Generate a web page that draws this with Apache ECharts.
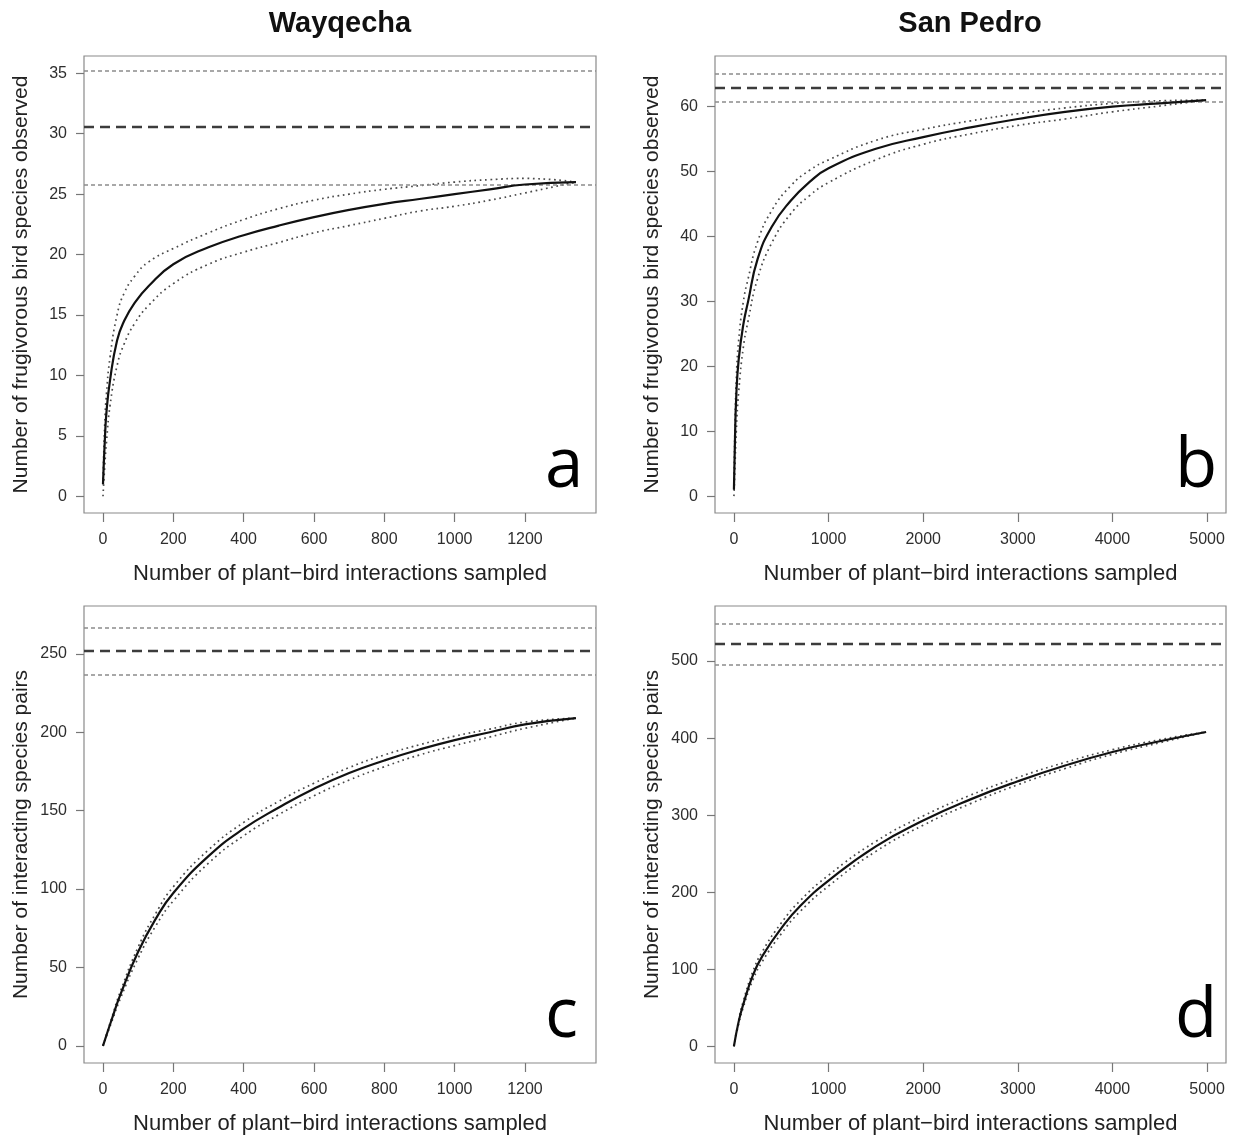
<!DOCTYPE html>
<html>
<head>
<meta charset="utf-8">
<script src="https://cdn.jsdelivr.net/npm/echarts@6/dist/echarts.min.js"></script>
<style>
html,body{margin:0;padding:0;background:#fff;}
#chart{width:1235px;height:1138px;}
</style>
</head>
<body>
<div id="chart"></div>
<script>
// ---------- DATA ----------
const panelTitles = ['Wayqecha', 'San Pedro'];
const panelLetters = ['a', 'b', 'c', 'd'];
const xTitle = 'Number of plant\u2212bird interactions sampled';
const yTitleTop = 'Number of frugivorous bird species observed';
const yTitleBottom = 'Number of interacting species pairs';

const xTicksWay = [0, 200, 400, 600, 800, 1000, 1200];
const xTicksSP = [0, 1000, 2000, 3000, 4000, 5000];
const yTicksA = [0, 5, 10, 15, 20, 25, 30, 35];
const yTicksB = [0, 10, 20, 30, 40, 50, 60];
const yTicksC = [0, 50, 100, 150, 200, 250];
const yTicksD = [0, 100, 200, 300, 400, 500];

// Panel a (Wayqecha, bird species)
const xA = [0, 5, 10, 20, 40, 60, 90, 130, 200, 300, 400, 500, 600, 700, 800, 900, 1000, 1100, 1200, 1345];
const aObs = [1, 4.5, 7, 9.6, 12.9, 14.5, 16.0, 17.4, 19.2, 20.6, 21.6, 22.4, 23.1, 23.7, 24.2, 24.6, 25.0, 25.4, 25.8, 26.0];
const aUpper = [1, 6, 8.5, 11.5, 15.0, 16.8, 18.2, 19.4, 20.5, 21.8, 22.9, 23.8, 24.5, 25.0, 25.4, 25.7, 26.0, 26.2, 26.3, 26.0];
const aLower = [0, 2.5, 4.5, 7.5, 10.8, 12.6, 14.3, 15.8, 17.6, 19.2, 20.2, 21.0, 21.8, 22.4, 23.0, 23.6, 24.0, 24.5, 25.1, 26.0];
const aRef = [35.2, 30.55, 25.75]; // upper CI, estimate, lower CI

// Panel b (San Pedro, bird species)
const xB = [0, 10, 25, 50, 100, 150, 250, 400, 600, 800, 1000, 1500, 2000, 2500, 3000, 3500, 4000, 4500, 4990];
const bObs = [1, 8, 15.5, 21, 26.5, 30, 36.5, 41.5, 45.5, 48.4, 50.5, 53.5, 55.3, 56.8, 58.1, 59.2, 60.0, 60.5, 61];
const bUpper = [1, 10, 18, 24, 30, 33.5, 39.2, 44, 47.8, 50.2, 51.8, 54.8, 56.5, 57.8, 58.9, 59.8, 60.5, 60.9, 61];
const bLower = [0, 4, 10, 16, 23, 27, 33.5, 39, 43.5, 46.3, 48.3, 51.8, 54.2, 55.8, 57.1, 58.1, 59.2, 60.1, 61];
const bRef = [65.0, 62.9, 60.8];

// Panel c (Wayqecha, interaction pairs)
const xC = [0, 25, 50, 100, 150, 200, 300, 400, 500, 600, 700, 800, 900, 1000, 1100, 1200, 1345];
const cObs = [0, 17, 33, 60, 81, 97.5, 121, 138.5, 152, 164, 174, 182, 189, 195, 200, 205, 209];
const cUpper = [0, 18, 35, 63, 84.5, 101.5, 125, 142.5, 156, 167.5, 177.5, 185.5, 192, 197.5, 202, 206.5, 209];
const cLower = [0, 15.5, 30.5, 56, 76.5, 92.5, 116.5, 134, 147.5, 159.5, 169.5, 178, 185.5, 191.5, 197, 202.5, 209];
const cRef = [266.5, 252, 236.5];

// Panel d (San Pedro, interaction pairs)
const xD = [0, 50, 100, 200, 300, 500, 700, 1000, 1500, 2000, 2500, 3000, 3500, 4000, 4500, 4990];
const dObs = [0, 32, 55, 92, 117, 153, 182, 215, 259.5, 293, 320.5, 344, 364.5, 382, 396, 408];
const dUpper = [0, 34, 59, 97, 123, 160, 189, 222, 266, 299, 326, 349, 368.5, 385, 398, 408];
const dLower = [0, 29, 51, 86, 110, 146, 175, 208, 253, 287, 315, 339.5, 360.5, 379, 394, 408];
const dRef = [549, 522, 495];

// ---------- LAYOUT / STYLE ----------
const FONT = '"Liberation Sans", Arial, Helvetica, sans-serif';
const grids = [
  {left: 84, top: 56, width: 512, height: 457},
  {left: 715, top: 56, width: 511, height: 457},
  {left: 84, top: 606, width: 512, height: 457},
  {left: 715, top: 606, width: 511, height: 457}
];
const ranges = [
  {x: [-54, 1402], y: [-1.38, 36.43]},
  {x: [-200, 5200], y: [-2.6, 67.8]},
  {x: [-54, 1402], y: [-10.9, 280.5]},
  {x: [-200, 5200], y: [-21.7, 571.5]}
];
const panels = [
  {x: xA, obs: aObs, up: aUpper, lo: aLower, ref: aRef, xt: xTicksWay, yt: yTicksA, yname: yTitleTop},
  {x: xB, obs: bObs, up: bUpper, lo: bLower, ref: bRef, xt: xTicksSP, yt: yTicksB, yname: yTitleTop},
  {x: xC, obs: cObs, up: cUpper, lo: cLower, ref: cRef, xt: xTicksWay, yt: yTicksC, yname: yTitleBottom},
  {x: xD, obs: dObs, up: dUpper, lo: dLower, ref: dRef, xt: xTicksSP, yt: yTicksD, yname: yTitleBottom}
];

const zip = (xs, ys) => xs.map((x, i) => [x, ys[i]]);
const plain = v => String(v);

const option = {
  backgroundColor: '#fff',
  animation: false,
  title: [
    {text: panelTitles[0], left: 340, top: 9, textAlign: 'center', padding: 0,
     textStyle: {fontFamily: FONT, fontSize: 29, fontWeight: 'bold', color: '#111'}},
    {text: panelTitles[1], left: 970, top: 9, textAlign: 'center', padding: 0,
     textStyle: {fontFamily: FONT, fontSize: 29, fontWeight: 'bold', color: '#111'}}
  ],
  grid: grids.map(g => Object.assign({show: true, borderColor: '#8a8a8a', borderWidth: 1.2, backgroundColor: 'transparent'}, g)),
  xAxis: panels.map((p, i) => ({
    type: 'value', gridIndex: i, min: ranges[i].x[0], max: ranges[i].x[1],
    splitLine: {show: false},
    axisLine: {show: false, onZero: false},
    axisTick: {show: true, inside: false, length: 9, customValues: p.xt, lineStyle: {color: '#777', width: 1.2}},
    axisLabel: {show: true, customValues: p.xt, formatter: plain, margin: 19, fontFamily: FONT, fontSize: 16, color: '#2e2e2e'},
    name: xTitle, nameLocation: 'middle', nameGap: 50,
    nameTextStyle: {fontFamily: FONT, fontSize: 22, color: '#222'}
  })),
  yAxis: panels.map((p, i) => ({
    type: 'value', gridIndex: i, min: ranges[i].y[0], max: ranges[i].y[1],
    splitLine: {show: false},
    axisLine: {show: false, onZero: false},
    axisTick: {show: true, inside: false, length: 8, customValues: p.yt, lineStyle: {color: '#777', width: 1.2}},
    axisLabel: {show: true, customValues: p.yt, formatter: plain, margin: 17, fontFamily: FONT, fontSize: 16, color: '#2e2e2e'},
    name: p.yname, nameLocation: 'middle', nameGap: 52,
    nameTextStyle: {fontFamily: FONT, fontSize: 21, color: '#222'}
  })),
  graphic: panelLetters.map((l, i) => ({
    type: 'text',
    left: grids[i].left + grids[i].width - 18 - 33,
    top: grids[i].top + grids[i].height - 80,
    style: {text: l, font: '69px "Open Sans", "Noto Sans", sans-serif', fill: '#000'}
  })),
  series: []
};

panels.forEach((p, i) => {
  const common = {type: 'line', xAxisIndex: i, yAxisIndex: i, symbol: 'none', smooth: 0.5, silent: true};
  option.series.push(Object.assign({}, common, {
    data: zip(p.x, p.up), lineStyle: {color: '#4a4a4a', width: 1.7, type: [1.7, 3.6]}
  }));
  option.series.push(Object.assign({}, common, {
    data: zip(p.x, p.lo), lineStyle: {color: '#4a4a4a', width: 1.7, type: [1.7, 3.6]}
  }));
  option.series.push(Object.assign({}, common, {
    data: zip(p.x, p.obs), lineStyle: {color: '#111', width: 2.2, type: 'solid'},
    z: 5,
    markLine: {
      silent: true, symbol: 'none', label: {show: false}, animation: false,
      data: [
        {yAxis: p.ref[0], lineStyle: {color: '#8c8c8c', width: 1.5, type: [4, 3]}},
        {yAxis: p.ref[1], lineStyle: {color: '#3c3c3c', width: 2.4, type: [10, 6]}},
        {yAxis: p.ref[2], lineStyle: {color: '#8c8c8c', width: 1.5, type: [4, 3]}}
      ]
    }
  }));
});

const chart = echarts.init(document.getElementById('chart'), null, {renderer: 'canvas'});
chart.setOption(option);
</script>
</body>
</html>
